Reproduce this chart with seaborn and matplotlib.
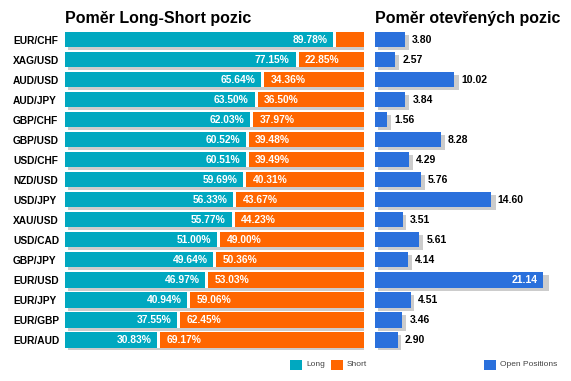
import matplotlib
matplotlib.use("Agg")
import matplotlib.pyplot as plt
from matplotlib.patches import Rectangle
import seaborn as sns
import numpy as np
import pandas as pd

pairs = ["EUR/CHF", "XAG/USD", "AUD/USD", "AUD/JPY", "GBP/CHF", "GBP/USD", "USD/CHF",
         "NZD/USD", "USD/JPY", "XAU/USD", "USD/CAD", "GBP/JPY", "EUR/USD", "EUR/JPY",
         "EUR/GBP", "EUR/AUD"]
long_pct = [89.78, 77.15, 65.64, 63.50, 62.03, 60.52, 60.51, 59.69, 56.33, 55.77,
            51.00, 49.64, 46.97, 40.94, 37.55, 30.83]
short_pct = [10.22, 22.85, 34.36, 36.50, 37.97, 39.48, 39.49, 40.31, 43.67, 44.23,
             49.00, 50.36, 53.03, 59.06, 62.45, 69.17]
open_pos = [3.80, 2.57, 10.02, 3.84, 1.56, 8.28, 4.29, 5.76, 14.60, 3.51, 5.61,
            4.14, 21.14, 4.51, 3.46, 2.90]
title_left = "Poměr Long-Short pozic"
title_right = "Poměr otevřených pozic"
legend_labels = ["Long", "Short", "Open Positions"]

TEAL = "#00A8C0"
ORANGE = "#FF6600"
BLUE = "#2A70DC"
SHADOW = "#CCCCCC"

sns.set_style("white")
plt.rcParams["font.family"] = ["Liberation Sans", "DejaVu Sans"]

W, H = 571, 381
fig = plt.figure(figsize=(W / 100, H / 100), dpi=100)


def px_axes(x0, ytop, x1, ybot):
    return fig.add_axes([x0 / W, 1 - ybot / H, (x1 - x0) / W, (ybot - ytop) / H])


df = pd.DataFrame({"pair": pairs, "long": long_pct, "short": short_pct,
                   "open": open_pos})
df["total"] = df["long"] + df["short"]
df["gap"] = df["long"] + 1.0
n = len(df)
pos = np.arange(n)
BH = 0.76

# ---------------- left panel ----------------
axL = px_axes(65, 29.5, 364, 350)
axL.barh(pos + 0.15, df["total"], left=1.0, height=BH, color=SHADOW, linewidth=0)
sns.barplot(data=df, x="total", y="pair", orient="h", color=ORANGE, saturation=1,
            width=BH, ax=axL, linewidth=0)
sns.barplot(data=df, x="gap", y="pair", orient="h", color="white", saturation=1,
            width=BH, ax=axL, linewidth=0)
sns.barplot(data=df, x="long", y="pair", orient="h", color=TEAL, saturation=1,
            width=BH, ax=axL, linewidth=0)
axL.set_xlim(0, 100)
axL.set_ylim(n - 0.5, -0.5)
axL.set_xlabel("")
axL.set_ylabel("")
axL.set_xticks([])
axL.tick_params(axis="y", length=0, pad=37.4)
for lbl in axL.get_yticklabels():
    lbl.set_ha("left")
    lbl.set_fontsize(7.3)
    lbl.set_fontweight("bold")
    lbl.set_color("black")
for s in axL.spines.values():
    s.set_visible(False)

for i, (lv, sv) in enumerate(zip(df["long"], df["short"])):
    axL.annotate(f"{lv:.2f}%", xy=(lv, i), xytext=(-6, 0), textcoords="offset pixels",
                 ha="right", va="center", color="white", fontsize=7.4, fontweight="bold")
    if sv >= 15:
        axL.annotate(f"{sv:.2f}%", xy=(lv + 1.0, i), xytext=(6, 0),
                     textcoords="offset pixels", ha="left", va="center", color="white",
                     fontsize=7.4, fontweight="bold")

# ---------------- right panel ----------------
axR = px_axes(375, 29.5, 571, 350)
axR.barh(pos + 0.15, df["open"] * 1.02, left=0.38, height=BH, color=SHADOW, linewidth=0)
sns.barplot(data=df, x="open", y="pair", orient="h", color=BLUE, saturation=1,
            width=BH, ax=axR, linewidth=0)
axR.set_xlim(0, 196 / 7.93)
axR.set_ylim(n - 0.5, -0.5)
axR.set_xlabel("")
axR.set_ylabel("")
axR.set_xticks([])
axR.set_yticks([])
for s in axR.spines.values():
    s.set_visible(False)
for i, v in enumerate(df["open"]):
    if v > 18:
        axR.annotate(f"{v:.2f}", xy=(v, i), xytext=(-5, 0), textcoords="offset pixels",
                     ha="right", va="center", color="white", fontsize=7.5,
                     fontweight="bold")
    else:
        axR.annotate(f"{v:.2f}", xy=(v, i), xytext=(7, 0), textcoords="offset pixels",
                     ha="left", va="center", color="black", fontsize=7.5,
                     fontweight="bold")

# ---------------- titles ----------------
fig.text(65 / W, 1 - 23 / H, title_left, fontsize=11.5, fontweight="bold",
         ha="left", va="baseline", color="black")
fig.text(375 / W, 1 - 23 / H, title_right, fontsize=11.5, fontweight="bold",
         ha="left", va="baseline", color="black")

# ---------------- legend ----------------
for x0, col, lab in [(290, TEAL, legend_labels[0]), (331, ORANGE, legend_labels[1]),
                     (484, BLUE, legend_labels[2])]:
    fig.add_artist(Rectangle((x0 / W, 1 - 370 / H), 12 / W, 10 / H,
                             transform=fig.transFigure, facecolor=col, edgecolor="none"))
    fig.text((x0 + 16) / W, 1 - 365 / H, lab, fontsize=6, color="#444444",
             ha="left", va="center")

fig.savefig("out.png", dpi=100)
